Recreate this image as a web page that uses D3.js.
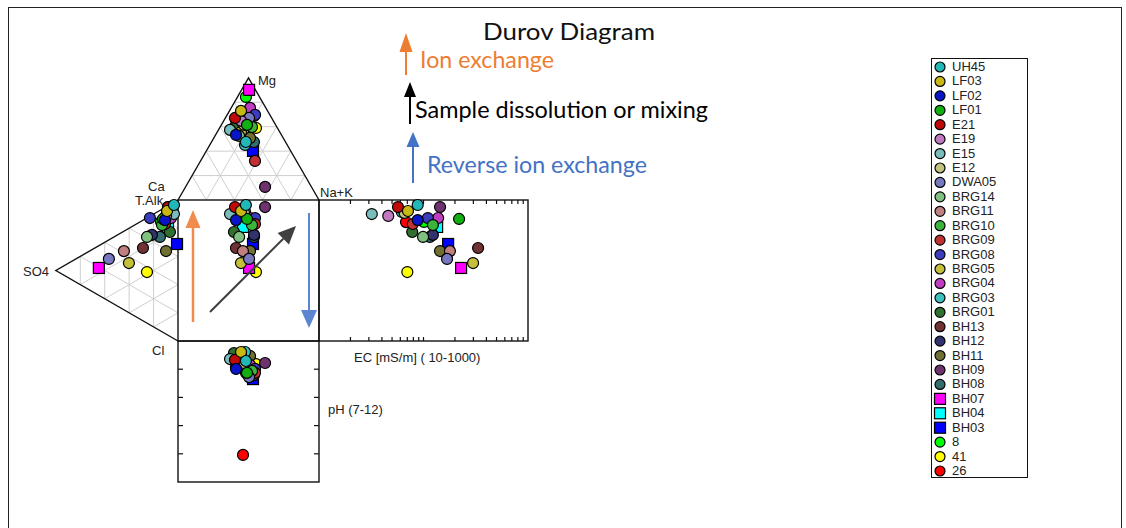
<!DOCTYPE html>
<html>
<head>
<meta charset="utf-8">
<title>Durov Diagram</title>
<script src="https://d3js.org/d3.v7.min.js"></script>
<style>
  body { margin: 0; background: #fff; }
  svg { display: block; font-family: "Liberation Sans", Arial, sans-serif; }
  .grid { stroke: #cfcfcf; stroke-width: 1; fill: none; }
  .edge { stroke: #111; stroke-width: 1.4; fill: none; }
  .lbl { font-size: 13px; fill: #222; }
  .note { font-family: Lato, "Open Sans", sans-serif; }
</style>
</head>
<body>
<div id="chart"></div>
<script>
// samples, in legend order
const sampleNames = ["UH45", "LF03", "LF02", "LF01", "E21", "E19", "E15", "E12", "DWA05", "BRG14",
  "BRG11", "BRG10", "BRG09", "BRG08", "BRG05", "BRG04", "BRG03", "BRG01", "BH13", "BH12",
  "BH11", "BH09", "BH08", "BH07", "BH04", "BH03", "8", "41", "26"];

// cations, % meq
const mgPct  = [47.5, 73.0, 53.3, 61.5, 67.2, 64.8, 57.4, 61.5, 67.2, 52.5, 63.1, 59.8, 32.0, 69.7, 55.7, 75.4, 45.1, 59.0, 65.6, 68.9, 50.8, 10.7, 47.5, 90.2, 59.0, 40.2, 84.4, 59.0, 67.2];
const nakPct = [24.4, 8.2, 14.5, 18.2, 6.8, 12.3, 8.2, 16.1, 16.8, 17.1, 14.5, 22.6, 38.6, 19.8, 16.8, 13.4, 25.0, 10.2, 8.3, 19.5, 25.7, 56.4, 30.1, 5.3, 16.6, 33.1, 6.0, 25.8, 12.5];
const caPct  = [28.1, 18.8, 32.2, 20.3, 26.0, 22.9, 34.4, 22.4, 16.0, 30.4, 22.4, 17.6, 29.4, 10.5, 27.5, 11.2, 29.9, 30.8, 26.1, 11.6, 23.5, 32.9, 22.4, 4.5, 24.4, 26.7, 9.6, 15.2, 20.3];

// anions, % meq
const so4Pct  = [3.3, 9.0, 10.7, 12.3, 8.2, 9.8, 3.3, 7.4, 56.6, 25.4, 44.3, 13.1, 10.7, 23.0, 40.2, 5.7, 4.9, 6.6, 28.7, 21.3, 9.8, 8.2, 14.8, 64.8, 8.2, 0.8, 13.9, 25.4, 10.7];
const clPct   = [1.9, 3.3, 8.9, 7.3, 0.9, 6.4, 8.3, 5.5, 13.5, 13.5, 14.1, 11.2, 11.7, 1.3, 24.6, 9.9, 6.0, 19.4, 19.7, 14.1, 31.3, 0.9, 18.8, 15.8, 15.0, 30.8, 8.6, 38.4, 10.3];
const alkPct  = [94.8, 87.7, 80.4, 80.4, 90.9, 83.8, 88.4, 87.1, 29.9, 61.1, 41.6, 75.7, 77.6, 75.7, 35.2, 84.4, 89.1, 74.0, 51.6, 64.6, 58.9, 90.9, 66.4, 19.4, 76.8, 68.4, 77.5, 36.2, 79.0];

// EC [mS/m] and pH
const ecValues = [88, 71, 88, 219, 57, 46, 32, 66, 168, 99, 179, 123, 79, 110, 298, 138, 62, 78, 333, 123, 144, 144, 115, 229, 135, 172, 101, 70, 68];
const phValues = [7.71, 7.39, 7.99, 8.13, 7.67, 7.57, 7.64, 7.78, 8.28, 7.89, 7.92, 8.06, 8.13, 7.99, 7.43, 7.85, 7.39, 7.43, 7.92, 7.99, 7.53, 7.78, 8.21, 8.13, 7.71, 8.35, 8.13, 7.82, 11.04];

const sampleColors = ["#22b8b8", "#c8b814", "#0a14c8", "#10b010", "#c00a0a", "#c07ac0", "#78bcbc", "#c4c080",
  "#7878c0", "#80c080", "#c08080", "#3cb43c", "#c03232", "#3c3cc0", "#c4c03c", "#c03cc0", "#3cc0c0", "#327032",
  "#703232", "#32326e", "#707032", "#6e326e", "#326e6e", "#ff00ff", "#00ffff", "#0000ff", "#00ff00", "#ffff00", "#ff0000"];
const squareSamples = ["BH07", "BH04", "BH03"];

const width = 1126, height = 528;
const svg = d3.select("#chart").append("svg")
    .attr("width", width)
    .attr("height", height);

// outer frame
svg.append("rect")
    .attr("x", 8.5).attr("y", 7.5)
    .attr("width", 1113).attr("height", 540)
    .attr("fill", "none").attr("stroke", "#222").attr("stroke-width", 1);

// geometry of the diagram
const X0 = 178, Y0 = 200, S = 141, H = S * Math.sqrt(3) / 2;
const RX1 = 528;

const triX = d3.scaleLinear().domain([0, 100]).range([X0, X0 + S]);
const mgY  = d3.scaleLinear().domain([0, 100]).range([Y0, Y0 - H]);
const so4X = d3.scaleLinear().domain([0, 100]).range([X0, X0 - H]);
const anY  = d3.scaleLinear().domain([0, 100]).range([Y0, Y0 + S]);
const ecX  = d3.scaleLog().domain([10, 1000]).range([X0 + S, RX1]);
const phY  = d3.scaleLinear().domain([7, 12]).range([Y0 + S, Y0 + 2 * S]);

function catPos(mg, nak) { return [triX(nak + mg / 2), mgY(mg)]; }
function anPos(so4, cl) { return [so4X(so4), anY(cl + so4 / 2)]; }

const line = d3.line();
const steps = [20, 40, 60, 80];

// triangle grids
const gGrid = svg.append("g");
steps.forEach(k => {
  // cation triangle
  gGrid.append("path").attr("class", "grid").attr("d", line([catPos(k, 0), catPos(k, 100 - k)]));
  gGrid.append("path").attr("class", "grid").attr("d", line([catPos(0, k), catPos(100 - k, k)]));
  gGrid.append("path").attr("class", "grid").attr("d", line([catPos(0, 100 - k), catPos(100 - k, 0)]));
  // anion triangle
  gGrid.append("path").attr("class", "grid").attr("d", line([anPos(k, 0), anPos(k, 100 - k)]));
  gGrid.append("path").attr("class", "grid").attr("d", line([anPos(0, k), anPos(100 - k, k)]));
  gGrid.append("path").attr("class", "grid").attr("d", line([anPos(0, 100 - k), anPos(100 - k, 0)]));
});

// outlines
const gEdge = svg.append("g");
gEdge.append("path").attr("class", "edge").attr("stroke-width", 1)
    .attr("d", line([catPos(0, 0), catPos(100, 0), catPos(0, 100)]));
gEdge.append("path").attr("class", "edge").attr("stroke-width", 1)
    .attr("d", line([anPos(0, 0), anPos(100, 0), anPos(0, 100)]));
gEdge.append("rect").attr("class", "edge")
    .attr("x", X0).attr("y", Y0).attr("width", S).attr("height", S);
gEdge.append("rect").attr("class", "edge")
    .attr("x", X0 + S).attr("y", Y0).attr("width", RX1 - X0 - S).attr("height", S);
gEdge.append("rect").attr("class", "edge")
    .attr("x", X0).attr("y", Y0 + S).attr("width", S).attr("height", S);

// EC log ticks, top and bottom of the right box
const ecTicks = [20, 30, 40, 50, 60, 70, 80, 90, 100, 200, 300, 400, 500, 600, 700, 800, 900];
ecTicks.forEach(v => {
  gEdge.append("line").attr("stroke", "#111").attr("stroke-width", 1.2)
      .attr("x1", ecX(v)).attr("x2", ecX(v)).attr("y1", Y0 + S).attr("y2", Y0 + S - 4);
  gEdge.append("line").attr("stroke", "#111").attr("stroke-width", 1.2)
      .attr("x1", ecX(v)).attr("x2", ecX(v)).attr("y1", Y0).attr("y2", Y0 + 4);
});
// pH ticks, both sides of the bottom box
[8, 9, 10, 11].forEach(v => {
  gEdge.append("line").attr("stroke", "#111").attr("stroke-width", 1.2)
      .attr("x1", X0).attr("x2", X0 + 5).attr("y1", phY(v)).attr("y2", phY(v));
  gEdge.append("line").attr("stroke", "#111").attr("stroke-width", 1.2)
      .attr("x1", X0 + S - 5).attr("x2", X0 + S).attr("y1", phY(v)).attr("y2", phY(v));
});

// axis labels
const labels = [
  ["Mg", 258, 85], ["Na+K", 320, 197], ["Ca", 148, 191], ["T.Alk", 135, 205],
  ["SO4", 23, 276], ["Cl", 152, 355], ["EC [mS/m] ( 10-1000)", 354, 362], ["pH (7-12)", 328, 414]
];
svg.append("g").selectAll("text").data(labels).join("text")
    .attr("class", "lbl")
    .attr("x", d => d[1]).attr("y", d => d[2])
    .text(d => d[0]);

// samples
const data = sampleNames.map((name, i) => {
  const catSum = mgPct[i] + nakPct[i] + caPct[i];
  const anSum = so4Pct[i] + clPct[i] + alkPct[i];
  const mg = mgPct[i] * 100 / catSum, nak = nakPct[i] * 100 / catSum;
  const so4 = so4Pct[i] * 100 / anSum, cl = clPct[i] * 100 / anSum;
  const c = catPos(mg, nak), a = anPos(so4, cl);
  return {
    name, color: sampleColors[i], square: squareSamples.includes(name),
    pts: [c, a, [c[0], a[1]], [ecX(ecValues[i]), a[1]], [c[0], phY(phValues[i])]]
  };
});

function drawMarker(g, x, y, d, r) {
  if (d.square) {
    g.append("rect").attr("x", x - r).attr("y", y - r).attr("width", 2 * r).attr("height", 2 * r)
        .attr("fill", d.color).attr("stroke", "#000").attr("stroke-width", 1.2);
  } else {
    g.append("circle").attr("cx", x).attr("cy", y).attr("r", r)
        .attr("fill", d.color).attr("stroke", "#000").attr("stroke-width", 1.2);
  }
}

const gPts = svg.append("g");
data.slice().reverse().forEach(d => {
  d.pts.forEach(p => drawMarker(gPts, p[0], p[1], d, 5.5));
});

// arrows
function arrow(x1, y1, x2, y2, color, w, headLen, headW) {
  const ang = Math.atan2(y2 - y1, x2 - x1);
  const bx = x2 - headLen * Math.cos(ang), by = y2 - headLen * Math.sin(ang);
  const nx = -Math.sin(ang) * headW / 2, ny = Math.cos(ang) * headW / 2;
  svg.append("line").attr("x1", x1).attr("y1", y1).attr("x2", bx).attr("y2", by)
      .attr("stroke", color).attr("stroke-width", w);
  svg.append("path").attr("d", line([[x2, y2], [bx + nx, by + ny], [bx - nx, by - ny]]) + "Z")
      .attr("fill", color);
}
const orange = "#ed7d31", blue = "#4472c4";
arrow(193, 322, 193, 210, "#f28c4c", 2.5, 18, 15);
arrow(309, 213, 309, 328, "#5b85d0", 2, 18, 16);
arrow(210, 312, 296, 226, "#404040", 2, 18, 16);

arrow(406, 75, 406, 33, orange, 2, 19, 13);
arrow(410, 124, 410, 82, "#000", 2, 15, 12);
arrow(413, 183, 413, 132, blue, 2, 15, 13);

// annotations, stretched to the widths measured on the reference
const notes = [
  ["Durov Diagram", 483, 40, "#111", 172],
  ["Ion exchange", 420, 68, orange, 134],
  ["Sample dissolution or mixing", 415, 118, "#000", 293],
  ["Reverse ion exchange", 427, 173, blue, 220]
];
svg.append("g").selectAll("text").data(notes).join("text")
    .attr("class", "note")
    .attr("x", d => d[1]).attr("y", d => d[2])
    .attr("font-size", 23).attr("fill", d => d[3])
    .attr("textLength", d => d[4]).attr("lengthAdjust", "spacingAndGlyphs")
    .text(d => d[0]);

// legend
const legend = svg.append("g");
legend.append("rect").attr("x", 931.5).attr("y", 58.5).attr("width", 96).attr("height", 419)
    .attr("fill", "#fff").attr("stroke", "#111").attr("stroke-width", 1);
const legY = d3.scalePoint().domain(sampleNames).range([67, 471]);
data.forEach(d => {
  const y = legY(d.name);
  drawMarker(legend, 940, y, d, d.square ? 5.5 : 5);
  legend.append("text").attr("class", "lbl").attr("font-size", 11.5)
      .attr("x", 952).attr("y", y + 4).text(d.name);
});
</script>
</body>
</html>
